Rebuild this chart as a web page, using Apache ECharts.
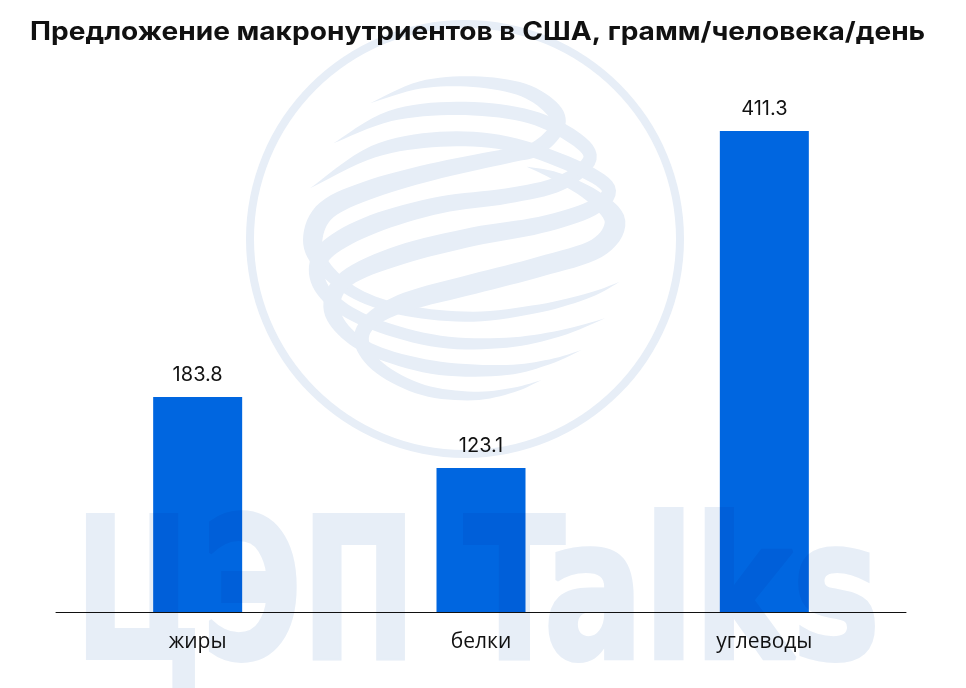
<!DOCTYPE html>
<html>
<head>
<meta charset="utf-8">
<title>Предложение макронутриентов</title>
<script src="https://cdn.jsdelivr.net/npm/echarts@6/dist/echarts.min.js"></script>
<style>
html, body { margin: 0; padding: 0; background: #fff; }
#container { width: 966px; height: 688px; }
/* zlevel 1 canvas holds the watermark text, it darkens the bars under it */
#container canvas:nth-of-type(2) { mix-blend-mode: multiply; }
</style>
</head>
<body>
<div id="container"></div>
<script>
var titleText = 'Предложение макронутриентов в США, грамм/человека/день';
var categories = ['жиры', 'белки', 'углеводы'];
var values = [183.8, 123.1, 411.3];

var markColor = '#e7eef7';

// watermark globe: strands as [x, y, width], in crop pixels (scaled by 1/3 below)
var strands = [
    [[390,190,0],[540,135,22],[700,125,32],[850,150,40],[940,210,46],[950,265,44],[890,325,44],[800,348,44],[600,390,50],[400,445,56],[260,510,60],[218,600,58],[250,680,44],[350,762,34],[500,812,32],[700,830,30],[900,805,24],[1050,765,14],[1140,725,0]],
    [[280,310,0],[450,228,32],[650,205,40],[850,225,40],[990,285,42],[1050,355,40],[960,430,44],[800,468,46],[600,495,50],[400,552,56],[265,625,54],[230,700,46],[275,780,40],[400,852,36],[600,905,36],[800,908,30],[960,880,18],[1095,835,0]],
    [[210,445,0],[400,335,36],[600,298,45],[800,310,42],[1000,378,42],[1105,445,42],[1055,505,46],[900,555,50],[700,590,56],[480,645,58],[320,715,50],[275,800,50],[320,880,40],[420,940,36],[600,985,40],[800,990,30],[930,965,14],[1025,930,0]],
    [[860,380,0],[950,410,26],[1060,470,44],[1125,545,62],[1070,625,60],[900,680,60],[700,732,60],[500,785,56],[395,840,46],[365,905,44],[420,985,36],[550,1050,32],[700,1068,26],[820,1050,14],[905,1020,0]]
];

function catmull(p0, p1, p2, p3, t, k) {
    return 0.5 * (2 * p1[k] + (p2[k] - p0[k]) * t +
        (2 * p0[k] - 5 * p1[k] + 4 * p2[k] - p3[k]) * t * t +
        (3 * p1[k] - p0[k] - 3 * p2[k] + p3[k]) * t * t * t);
}

function ribbon(pts) {
    var line = [];
    for (var i = 0; i < pts.length - 1; i++) {
        var p0 = pts[Math.max(i - 1, 0)], p1 = pts[i], p2 = pts[i + 1], p3 = pts[Math.min(i + 2, pts.length - 1)];
        for (var s = 0; s < 8; s++) {
            var t = s / 8;
            line.push([catmull(p0, p1, p2, p3, t, 0), catmull(p0, p1, p2, p3, t, 1), catmull(p0, p1, p2, p3, t, 2)]);
        }
    }
    line.push(pts[pts.length - 1]);
    var left = [], right = [];
    for (var j = 0; j < line.length; j++) {
        var a = line[Math.max(j - 1, 0)], b = line[Math.min(j + 1, line.length - 1)];
        var dx = b[0] - a[0], dy = b[1] - a[1], len = Math.sqrt(dx * dx + dy * dy) || 1;
        var w = Math.max(line[j][2], 0) / 2;
        left.push([line[j][0] - dy / len * w, line[j][1] + dx / len * w]);
        right.unshift([line[j][0] + dy / len * w, line[j][1] - dx / len * w]);
    }
    return left.concat(right);
}

var graphics = [{
    type: 'ring',
    z: 0,
    shape: {cx: 465, cy: 239, r: 219, r0: 211},
    style: {fill: markColor}
}];
for (var i in strands) {
    graphics.push({
        type: 'polygon',
        z: 0,
        x: 240,
        y: 40,
        scaleX: 1 / 3,
        scaleY: 1 / 3,
        shape: {points: ribbon(strands[i])},
        style: {fill: markColor}
    });
}
graphics.push({
    type: 'text',
    zlevel: 1,
    x: 75,
    y: 508,
    scaleX: 0.77,
    style: {
        text: 'ЦЭП',
        fill: markColor,
        stroke: markColor,
        lineWidth: 4,
        font: 'bold 197px "DejaVu Sans Condensed", "DejaVu Sans"'
    }
});
graphics.push({
    type: 'text',
    zlevel: 1,
    x: 464,
    y: 508,
    scaleX: 0.834,
    style: {
        text: 'Talks',
        fill: markColor,
        stroke: markColor,
        lineWidth: 4,
        font: 'bold 197px "DejaVu Sans Condensed", "DejaVu Sans"'
    }
});
graphics.push({
    type: 'text',
    z: 60,
    x: 30,
    y: 20,
    scaleX: 1.123,
    style: {
        text: titleText,
        fill: '#111',
        font: 'bold 25px Inter'
    }
});

var myChart = echarts.init(document.getElementById('container'));
var option = {
    backgroundColor: '#fff',
    animation: false,
    graphic: {elements: graphics},
    grid: {left: 56, right: 60, top: 97.5, bottom: 76},
    xAxis: {
        type: 'category',
        data: categories,
        axisLine: {show: true, lineStyle: {color: '#111', width: 1}},
        axisTick: {show: false},
        axisLabel: {
            margin: 20,
            fontFamily: 'Open Sans',
            fontSize: 21,
            color: '#111'
        }
    },
    yAxis: {
        type: 'value',
        min: 0,
        max: 440,
        show: false,
        splitLine: {show: false}
    },
    series: [{
        type: 'bar',
        data: values,
        barWidth: 89,
        z: 2,
        itemStyle: {color: '#0066e0'},
        label: {
            show: true,
            position: 'top',
            distance: 12,
            fontFamily: 'Inter',
            fontSize: 20,
            color: '#111'
        }
    }]
};
myChart.setOption(option);
</script>
</body>
</html>
